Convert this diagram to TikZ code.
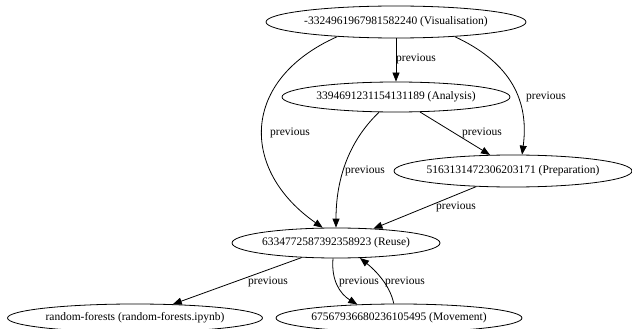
\documentclass[tikz,border=0pt]{standalone}
\usepackage{fontspec}
\setmainfont{Liberation Serif}
\usetikzlibrary{shapes.geometric,arrows.meta}
\tikzset{
  ent/.style={ellipse, draw, line width=0.8pt, inner sep=0pt},
  edge/.style={line width=0.8pt, -{Triangle[length=9pt,width=7pt]}},
  lab/.style={font=\fontsize{11.5}{13}\selectfont, inner sep=0pt},
}
\begin{document}
\begin{tikzpicture}[x=1pt,y=-1pt]
\useasboundingbox (0,0) rectangle (632,329);
\node[ent, minimum width=260pt, minimum height=32pt, label={[lab]center:-3324961967981582240 (Visualisation)}] (V) at (396,22) {};
\node[ent, minimum width=228pt, minimum height=30pt, label={[lab]center:3394691231154131189 (Analysis)}] (A) at (396,97) {};
\node[ent, minimum width=238pt, minimum height=32pt, label={[lab]center:5163131472306203171 (Preparation)}] (P) at (513,171) {};
\node[ent, minimum width=208pt, minimum height=30pt, label={[lab]center:6334772587392358923 (Reuse)}] (R) at (336,243) {};
\node[ent, minimum width=255pt, minimum height=28pt, label={[lab]center:random-forests (random-forests.ipynb)}] (RF) at (135,318) {};
\node[ent, minimum width=246pt, minimum height=28pt, label={[lab]center:67567936680236105495 (Movement)}] (M) at (399,318) {};

\draw[edge] (V.south) -- (A.north);
\node[lab] (l1) at (416,59) {previous};

\draw[edge] (V.194) .. controls (240,80) and (240,170) .. (R.131);
\node[lab] (l2) at (290,133) {previous};

\draw[edge] (V.346) .. controls (505,60) and (530,95) .. (P.61);
\node[lab] (l3) at (546,97) {previous};

\draw[edge] (A.328) -- (P.145);
\node[lab] (l4) at (482,133) {previous};

\draw[edge] (A.222) .. controls (355,135) and (336,170) .. (R.north);
\node[lab] (l5) at (365,171) {previous};

\draw[edge] (P.203) -- (R.21);
\node[lab] (l6) at (456,207) {previous};

\draw[edge] (R.203) -- (RF.20);
\node[lab] (l7) at (268,282) {previous};

\draw[edge] (R.259) .. controls (331,280) and (340,294) .. (M.162);
\node[lab] (l8) at (359,282) {previous};

\draw[edge] (M.110) .. controls (390,285) and (375,270) .. (R.328);
\node[lab] (l9) at (405,282) {previous};
\end{tikzpicture}
\end{document}
